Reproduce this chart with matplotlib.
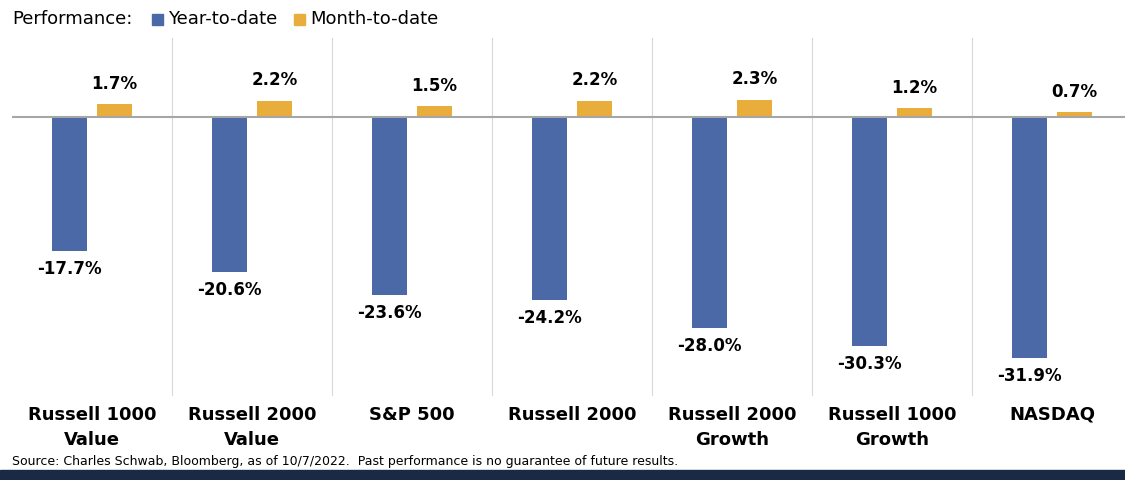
import matplotlib.pyplot as plt
import numpy as np
from matplotlib.patches import Rectangle

categories = ['Russell 1000\nValue', 'Russell 2000\nValue', 'S&P 500', 'Russell 2000',
              'Russell 2000\nGrowth', 'Russell 1000\nGrowth', 'NASDAQ']
ytd = [-17.7, -20.6, -23.6, -24.2, -28.0, -30.3, -31.9]
mtd = [1.7, 2.2, 1.5, 2.2, 2.3, 1.2, 0.7]

blue = '#4a69a6'
gold = '#e9ad3b'

fig = plt.figure(figsize=(11.25, 4.8), dpi=100)
ax = fig.add_axes([12/1125, 1-396/480, 1120/1125, (396-38)/480])

x = np.arange(len(categories))
ax.bar(x - 0.14, ytd, width=0.22, color=blue)
ax.bar(x + 0.14, mtd, width=0.22, color=gold)

for i in range(len(categories)):
    ax.text(x[i] - 0.14, ytd[i] - 1.2, '%.1f%%' % ytd[i], ha='center', va='top',
            fontsize=12, fontweight='bold')
    ax.text(x[i] + 0.14, mtd[i] + 1.5, '%.1f%%' % mtd[i], ha='center', va='bottom',
            fontsize=12, fontweight='bold')
    ax.text(x[i], -38.3, categories[i], ha='center', va='top',
            fontsize=13, fontweight='bold', linespacing=1.5)

for b in np.arange(0.5, len(categories) - 0.5, 1):
    ax.axvline(b, color='#d9d9d9', lw=0.8)
ax.axhline(0, color='#a6a6a6', lw=1.5)

ax.set_xlim(-0.5, len(categories) - 0.5)
ax.set_ylim(-37, 10.5)
ax.set_xticks([])
ax.set_yticks([])
for s in ax.spines.values():
    s.set_visible(False)

# legend at top
fig.text(12/1125, 1-19/480, 'Performance:', fontsize=13, va='center')
fig.patches.append(Rectangle((152/1125, 1-25/480), 11/1125, 11/480, color=blue,
                             transform=fig.transFigure, figure=fig))
fig.text(168/1125, 1-19/480, 'Year-to-date', fontsize=13, va='center')
fig.patches.append(Rectangle((294/1125, 1-25/480), 11/1125, 11/480, color=gold,
                             transform=fig.transFigure, figure=fig))
fig.text(310/1125, 1-19/480, 'Month-to-date', fontsize=13, va='center')

fig.text(12/1125, 1-461/480,
         'Source: Charles Schwab, Bloomberg, as of 10/7/2022.  Past performance is no guarantee of future results.',
         fontsize=9, va='center')
fig.patches.append(Rectangle((0, 0), 1, 10/480, color='#1b2a44',
                             transform=fig.transFigure, figure=fig))

fig.savefig('out.png', dpi=100)
